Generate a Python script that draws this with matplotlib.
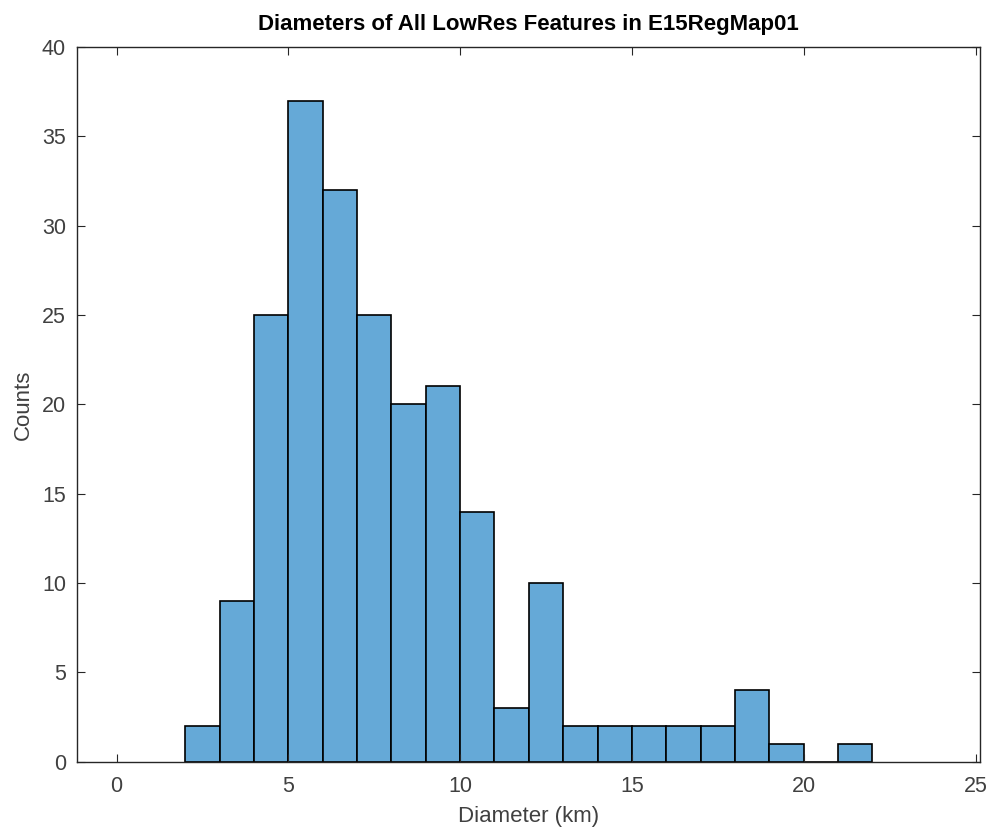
import numpy as np
import matplotlib.pyplot as plt

plt.rcParams['font.family'] = ['Liberation Sans', 'DejaVu Sans']

# histogram bin edges (km) and counts
bin_left = [2, 3, 4, 5, 6, 7, 8, 9, 10, 11, 12, 13, 14, 15, 16, 17, 18, 19, 20, 21]
counts = [2, 9, 25, 37, 32, 25, 20, 21, 14, 3, 10, 2, 2, 2, 2, 2, 4, 1, 0, 1]
xticks = [0, 5, 10, 15, 20, 25]
yticks = [0, 5, 10, 15, 20, 25, 30, 35, 40]

fig = plt.figure(figsize=(9.9, 8.3), dpi=100)
ax = fig.add_axes([0.0778, 0.0823, 0.9121, 0.8611])

ax.bar(bin_left, counts, width=1, align='edge', color='#65a9d7',
       edgecolor='black', linewidth=1.2)

ax.set_xlim(-1.15, 25.13)
ax.set_ylim(0, 40)
ax.set_xticks(xticks)
ax.set_yticks(yticks)
ax.tick_params(direction='in', top=True, right=True, length=6,
               labelsize=15.5, labelcolor='#404040', color='#262626')
ax.tick_params(axis='x', pad=10)
ax.tick_params(axis='y', pad=8)
for s in ax.spines.values():
    s.set_color('#262626')
    s.set_linewidth(1.0)

ax.set_xlabel('Diameter (km)', fontsize=16, color='#404040', labelpad=7)
ax.set_ylabel('Counts', fontsize=16, color='#404040', labelpad=6)
ax.set_title('Diameters of All LowRes Features in E15RegMap01',
             fontsize=16, fontweight='bold', pad=12)

fig.savefig('out.png', dpi=100)
